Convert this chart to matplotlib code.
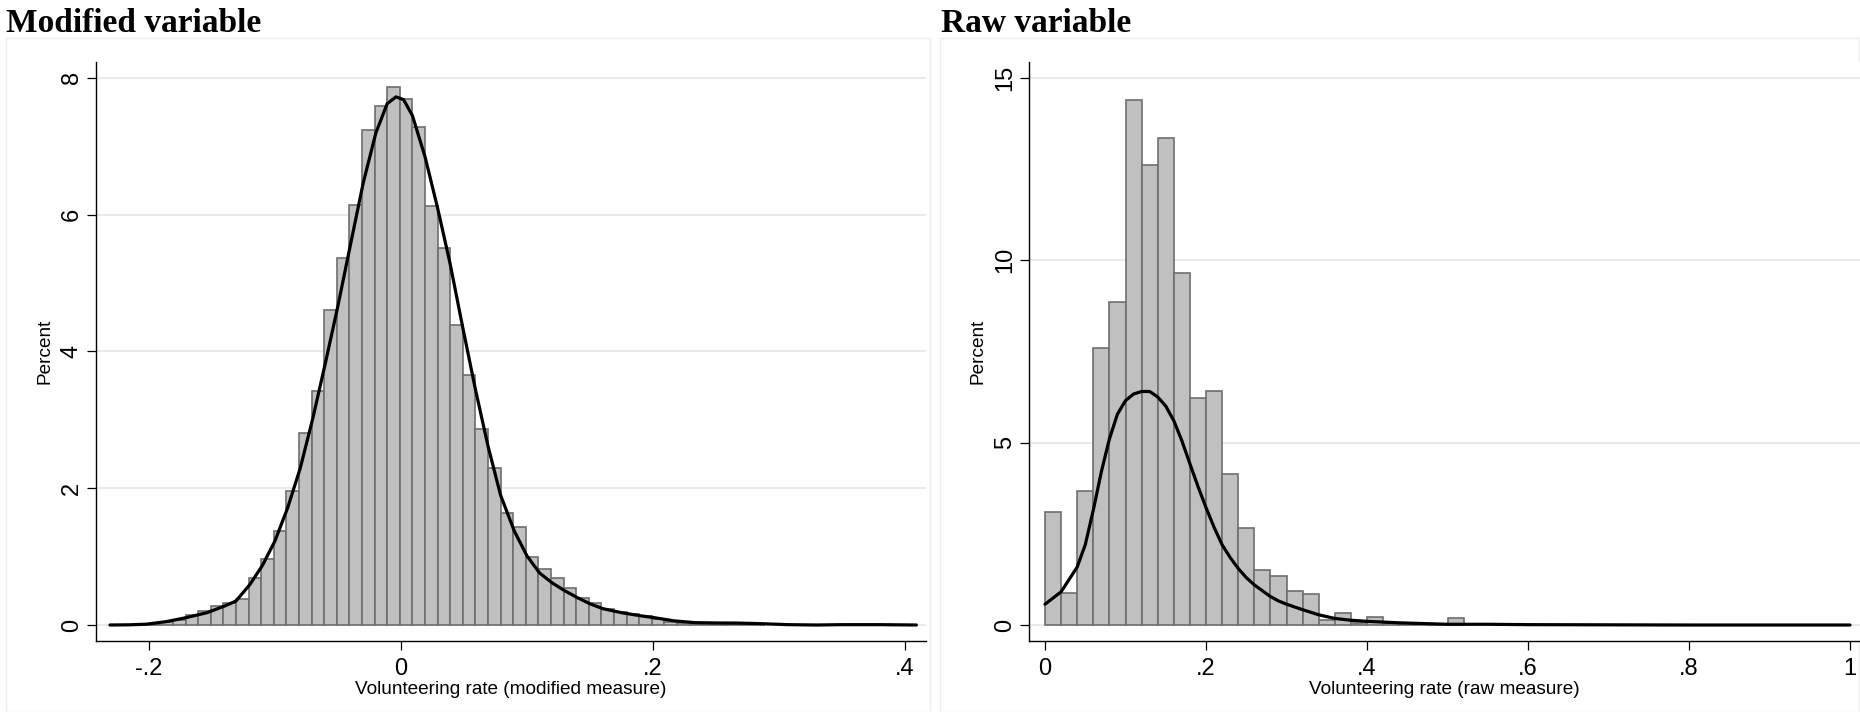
import matplotlib
matplotlib.use("Agg")
import matplotlib.pyplot as plt
from matplotlib.patches import Rectangle
import numpy as np

plt.rcParams['font.family'] = ['Liberation Sans', 'DejaVu Sans']

# ---------------- data ----------------
titles = ["Modified variable", "Raw variable"]
xlabels = ["Volunteering rate (modified measure)", "Volunteering rate (raw measure)"]
ylabel = "Percent"

# Left: histogram of modified measure (percent per bin)
left_bin_start = -0.231
left_bin_width = 0.01
left_pct = [0.00, 0.00, 0.01, 0.02, 0.04, 0.08, 0.15, 0.20, 0.28, 0.32,
            0.38, 0.68, 0.97, 1.37, 1.96, 2.80, 3.42, 4.60, 5.37, 6.14,
            7.23, 7.59, 7.87, 7.69, 7.28, 6.13, 5.51, 4.38, 3.65, 2.86,
            2.29, 1.64, 1.43, 0.99, 0.82, 0.69, 0.54, 0.40, 0.32, 0.235,
            0.19, 0.155, 0.13, 0.085, 0.05, 0.03, 0.02, 0.015, 0.01, 0.01,
            0.005, 0.005, 0, 0, 0, 0, 0, 0, 0, 0,
            0, 0, 0, 0.003]
left_kde_x = [-0.231, -0.215, -0.202, -0.186, -0.170, -0.154, -0.141, -0.131, -0.120, -0.110,
              -0.100, -0.090, -0.080, -0.070, -0.060, -0.050, -0.040, -0.030, -0.020, -0.011,
              -0.004, 0.002, 0.009, 0.019, 0.029, 0.039, 0.049, 0.059, 0.069, 0.079,
              0.090, 0.100, 0.110, 0.120, 0.130, 0.140, 0.150, 0.160, 0.175, 0.190,
              0.200, 0.217, 0.233, 0.250, 0.267, 0.285, 0.307, 0.330, 0.350, 0.380, 0.409]
left_kde_y = [0.0, 0.003, 0.012, 0.05, 0.11, 0.18, 0.27, 0.35, 0.59, 0.87,
              1.23, 1.71, 2.29, 3.02, 3.83, 4.67, 5.57, 6.46, 7.19, 7.62,
              7.72, 7.68, 7.45, 6.85, 6.10, 5.28, 4.35, 3.45, 2.62, 1.90,
              1.37, 1.01, 0.76, 0.615, 0.50, 0.40, 0.31, 0.24, 0.18, 0.135,
              0.11, 0.06, 0.035, 0.03, 0.028, 0.02, 0.005, 0.0, 0.005, 0.005, 0.0]
left_xticks = [-0.2, 0.0, 0.2, 0.4]
left_xticklabels = ["-.2", "0", ".2", ".4"]
left_yticks = [0, 2, 4, 6, 8]

# Right: histogram of raw measure
right_bin_start = 0.0
right_bin_width = 0.02
right_pct = [3.09, 0.89, 3.66, 7.59, 8.86, 14.38, 12.61, 13.34, 9.64, 6.23,
             6.42, 4.15, 2.65, 1.52, 1.33, 0.92, 0.86, 0.15, 0.34, 0.05,
             0.23, 0.06, 0.03, 0.02, 0.04, 0.18]
right_kde_x = [0.0, 0.02, 0.04, 0.05, 0.06, 0.07, 0.08, 0.09, 0.10, 0.11,
               0.12, 0.13, 0.14, 0.15, 0.16, 0.17, 0.18, 0.19, 0.20, 0.21,
               0.22, 0.23, 0.24, 0.25, 0.26, 0.28, 0.29, 0.30, 0.32, 0.34,
               0.36, 0.38, 0.40, 0.42, 0.44, 0.47, 0.50, 0.55, 0.60, 0.70, 0.80, 1.0]
right_kde_y = [0.57, 0.91, 1.59, 2.2, 3.15, 4.2, 5.1, 5.78, 6.15, 6.33,
               6.40, 6.40, 6.25, 6.0, 5.6, 5.05, 4.42, 3.8, 3.22, 2.68,
               2.2, 1.85, 1.55, 1.3, 1.1, 0.78, 0.66, 0.57, 0.42, 0.28,
               0.18, 0.13, 0.10, 0.08, 0.06, 0.04, 0.02, 0.02, 0.01, 0.005, 0.0, 0.0]
right_xticks = [0.0, 0.2, 0.4, 0.6, 0.8, 1.0]
right_xticklabels = ["0", ".2", ".4", ".6", ".8", "1"]
right_yticks = [0, 5, 10, 15]

# ---------------- figure ----------------
W, H = 1860, 712
fig = plt.figure(figsize=(W / 100, H / 100), dpi=100)

def px_rect(x0, x1, ytop, ybot):
    return [x0 / W, 1 - ybot / H, (x1 - x0) / W, (ybot - ytop) / H]

ax_l = fig.add_axes(px_rect(96, 925.7, 62, 640.7))
ax_r = fig.add_axes(px_rect(1029, 1860, 62, 640.7))

BAR_FC = '#c0c0c0'
BAR_EC = '#6e6e6e'
GRID_C = '#e8e8e8'

def style(ax, xlim, ylim, xticks, xticklabels, yticks, xlabel, axw):
    ax.set_xlim(*xlim)
    ax.set_ylim(*ylim)
    ax.set_xticks(xticks)
    ax.set_xticklabels(xticklabels)
    ax.set_yticks(yticks)
    ax.set_yticklabels([str(v) for v in yticks])
    for s in ['top', 'right']:
        ax.spines[s].set_visible(False)
    for s in ['left', 'bottom']:
        ax.spines[s].set_linewidth(1.0)
        ax.spines[s].set_color('black')
    ax.set_axisbelow(True)
    ax.yaxis.grid(True, color=GRID_C, lw=1.3)
    ax.xaxis.grid(False)
    ax.tick_params(axis='both', direction='out', length=6.5, width=0.9,
                   color='black', labelsize=17)
    ax.tick_params(axis='x', pad=6)
    ax.tick_params(axis='y', pad=3, labelrotation=90)
    for lbl in ax.get_yticklabels():
        lbl.set_va('center')
    ax.set_xlabel(xlabel, fontsize=13.7)
    ax.set_ylabel(ylabel, fontsize=13.7)
    ax.xaxis.set_label_coords(0.5, -(690 - 640.7) / 578.7)
    ax.xaxis.label.set_va('center')
    ax.yaxis.set_label_coords(-51 / axw, 0.5)
    ax.yaxis.label.set_va('center')
    ax.yaxis.label.set_ha('center')

def draw_hist(ax, start, width, pct):
    pct = np.asarray(pct, dtype=float)
    lefts = start + width * np.arange(len(pct))
    m = pct > 0
    ax.bar(lefts[m], pct[m], width=width, align='edge', color=BAR_FC,
           edgecolor=BAR_EC, linewidth=1.2, zorder=2)

draw_hist(ax_l, left_bin_start, left_bin_width, left_pct)
ax_l.plot(left_kde_x, left_kde_y, color='black', lw=2.3, zorder=3,
          solid_joinstyle='round', solid_capstyle='round')
style(ax_l, (-0.24206, 0.41643), (-0.2295, 8.23), left_xticks, left_xticklabels,
      left_yticks, xlabels[0], 829.7)

draw_hist(ax_r, right_bin_start, right_bin_width, right_pct)
ax_r.plot(right_kde_x, right_kde_y, color='black', lw=2.3, zorder=3,
          solid_joinstyle='round', solid_capstyle='round')
style(ax_r, (-0.01988, 1.01242), (-0.430, 15.43), right_xticks, right_xticklabels,
      right_yticks, xlabels[1], 831)

# graph region outlines
for x0, x1 in [(6, 930), (940, 1859)]:
    fig.add_artist(Rectangle((x0 / W, 0), (x1 - x0) / W, (H - 38) / H,
                             transform=fig.transFigure, fill=False,
                             ec='#eeeeee', lw=1.0, zorder=0))

# panel titles
for x0, t in [(6, titles[0]), (941, titles[1])]:
    fig.text(x0 / W, 1 - 32 / H, t, fontsize=24, fontweight='bold',
             family=['Liberation Serif', 'DejaVu Serif'], va='baseline', ha='left')

fig.savefig('out.png', dpi=100)
